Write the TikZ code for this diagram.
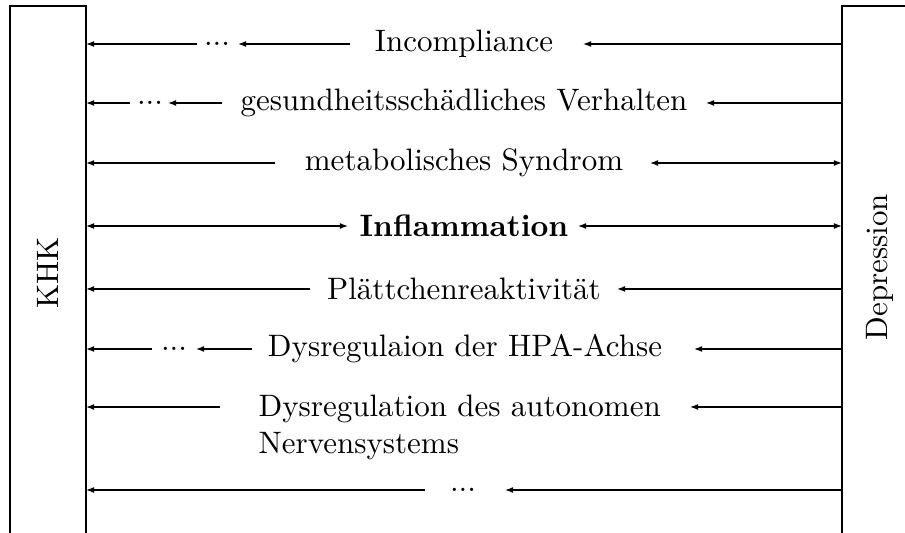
\documentclass[tikz,border=0pt]{standalone}
\usetikzlibrary{arrows.meta}
\begin{document}
\begin{tikzpicture}[x=0.3226pt,y=-0.3226pt,
  tip/.style={-{Latex[length=2.6pt,width=1.9pt]}},
  dtip/.style={{Latex[length=2.6pt,width=1.9pt]}-{Latex[length=2.6pt,width=1.9pt]}},
  lbl/.style={inner sep=0pt},
  dts/.style={inner sep=0pt},
  boxline/.style={line width=0.4pt}]
\useasboundingbox (0,0) rectangle (905,533);
\clip (0,0) rectangle (905,533);
% boxes
\draw[boxline] (10,600) -- (10,6) -- (86,6) -- (86,600);
\draw[boxline] (842,600) -- (842,6) -- (960,6);
\node[rotate=90,lbl] (khk) at (48,273) {KHK};
\node[rotate=90,lbl] (dep) at (880,267) {Depression};
% row 1
\node[lbl] (t1) at (464,44) {Incompliance};
\node[dts] (d1) at (217,44) {...};
\coordinate (L1) at (86,44); \coordinate (R1) at (842,44);
\coordinate (a1) at (350,44); \coordinate (b1) at (238,44);
\coordinate (c1) at (197,44); \coordinate (e1) at (583,44);
\draw[tip] (R1) -- (e1);
\draw[tip] (a1) -- (b1);
\draw[tip] (c1) -- (L1);
% row 2
\node[lbl] (t2) at (464,103) {gesundheitssch\"adliches Verhalten};
\node[dts] (d2) at (150,103) {...};
\coordinate (L2) at (86,103); \coordinate (R2) at (842,103);
\coordinate (a2) at (222,103); \coordinate (b2) at (168,103);
\coordinate (c2) at (130,103); \coordinate (e2) at (706,103);
\draw[tip] (R2) -- (e2);
\draw[tip] (a2) -- (b2);
\draw[tip] (c2) -- (L2);
% row 3
\node[lbl] (t3) at (464,163) {metabolisches Syndrom};
\coordinate (L3) at (86,163); \coordinate (R3) at (842,163);
\coordinate (a3) at (275,163); \coordinate (e3) at (650,163);
\draw[tip] (a3) -- (L3);
\draw[dtip] (e3) -- (R3);
% row 4
\node[lbl] (t4) at (464,226) {\textbf{Inflammation}};
\coordinate (L4) at (86,226); \coordinate (R4) at (842,226);
\coordinate (a4) at (348,226); \coordinate (e4) at (578,226);
\draw[dtip] (L4) -- (a4);
\draw[dtip] (e4) -- (R4);
% row 5
\node[lbl] (t5) at (464,289) {Pl\"attchenreaktivit\"at};
\coordinate (L5) at (86,289); \coordinate (R5) at (842,289);
\coordinate (a5) at (310,289); \coordinate (e5) at (617,289);
\draw[tip] (a5) -- (L5);
\draw[tip] (R5) -- (e5);
% row 6
\node[lbl] (t6) at (465,349) {Dysregulaion der HPA-Achse};
\node[dts] (d6) at (174,349) {...};
\coordinate (L6) at (86,349); \coordinate (R6) at (842,349);
\coordinate (a6) at (252,349); \coordinate (b6) at (196,349);
\coordinate (c6) at (152,349); \coordinate (e6) at (694,349);
\draw[tip] (R6) -- (e6);
\draw[tip] (a6) -- (b6);
\draw[tip] (c6) -- (L6);
% row 7
\node[lbl,align=left,anchor=north west] (t7) at (258,394) {Dysregulation des autonomen\\Nervensystems};
\coordinate (L7) at (86,407); \coordinate (R7) at (842,407);
\coordinate (a7) at (220,407); \coordinate (e7) at (690,407);
\draw[tip] (a7) -- (L7);
\draw[tip] (R7) -- (e7);
% row 8
\node[dts] (d8) at (463,490) {...};
\coordinate (L8) at (86,490); \coordinate (R8) at (842,490);
\coordinate (a8) at (425,490); \coordinate (e8) at (505,490);
\draw[tip] (a8) -- (L8);
\draw[tip] (R8) -- (e8);
\end{tikzpicture}
\end{document}
